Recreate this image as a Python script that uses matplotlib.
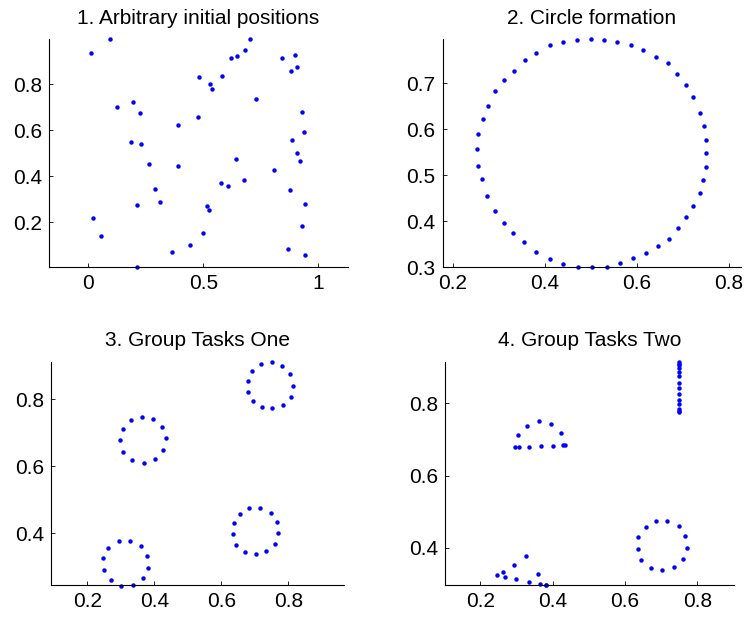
import matplotlib
matplotlib.use("Agg")
import matplotlib.pyplot as plt

plt.rcParams['font.family'] = ['Liberation Sans', 'DejaVu Sans']

# 1. arbitrary initial positions
init_x = [0.012, 0.094, 0.123, 0.193, 0.223, 0.186, 0.229, 0.265, 0.290, 0.313,
          0.212, 0.022, 0.054, 0.210, 0.362, 0.441, 0.497, 0.516, 0.525, 0.390,
          0.388, 0.477, 0.480, 0.528, 0.538, 0.580, 0.622, 0.648, 0.681, 0.703,
          0.730, 0.643, 0.577, 0.609, 0.678, 0.807, 0.842, 0.897, 0.880, 0.907,
          0.929, 0.939, 0.884, 0.907, 0.920, 0.877, 0.941, 0.928, 0.867, 0.941]
init_y = [0.938, 0.997, 0.700, 0.722, 0.677, 0.548, 0.542, 0.455, 0.343, 0.287,
          0.274, 0.219, 0.138, 0.004, 0.072, 0.103, 0.155, 0.270, 0.254, 0.445,
          0.625, 0.657, 0.832, 0.801, 0.780, 0.838, 0.913, 0.925, 0.948, 0.996,
          0.738, 0.475, 0.372, 0.359, 0.383, 0.429, 0.913, 0.929, 0.859, 0.875,
          0.678, 0.593, 0.557, 0.503, 0.465, 0.339, 0.281, 0.184, 0.083, 0.058]

# 2. circle formation
circ_x = [0.499, 0.528, 0.557, 0.586, 0.614, 0.641, 0.667, 0.688, 0.706, 0.722,
          0.738, 0.745, 0.749, 0.751, 0.749, 0.744, 0.736, 0.722, 0.706, 0.689,
          0.670, 0.645, 0.620, 0.591, 0.563, 0.534, 0.503, 0.472, 0.439, 0.410,
          0.380, 0.355, 0.330, 0.310, 0.292, 0.275, 0.263, 0.254, 0.253, 0.254,
          0.266, 0.276, 0.291, 0.311, 0.332, 0.357, 0.381, 0.410, 0.439, 0.470]
circ_y = [0.795, 0.794, 0.789, 0.782, 0.771, 0.757, 0.743, 0.719, 0.695, 0.670,
          0.636, 0.607, 0.577, 0.548, 0.518, 0.489, 0.461, 0.434, 0.409, 0.385,
          0.362, 0.346, 0.330, 0.320, 0.309, 0.301, 0.300, 0.301, 0.308, 0.318,
          0.334, 0.355, 0.375, 0.397, 0.423, 0.455, 0.491, 0.521, 0.556, 0.589,
          0.622, 0.651, 0.682, 0.706, 0.727, 0.750, 0.766, 0.782, 0.789, 0.794]

# 3. group tasks one
g1_x = [0.750, 0.717, 0.781, 0.692, 0.804, 0.679, 0.813, 0.679, 0.808, 0.694,
        0.784, 0.720, 0.752,
        0.362, 0.329, 0.397, 0.305, 0.424, 0.298, 0.434, 0.307, 0.426, 0.333,
        0.401, 0.368,
        0.683, 0.716, 0.655, 0.747, 0.637, 0.765, 0.634, 0.768, 0.645, 0.760,
        0.670, 0.734, 0.702,
        0.293, 0.327, 0.263, 0.360, 0.248, 0.379, 0.249, 0.380, 0.270, 0.365,
        0.300, 0.335]
g1_y = [0.912, 0.906, 0.899, 0.885, 0.874, 0.854, 0.841, 0.823, 0.808, 0.796,
        0.783, 0.778, 0.773,
        0.748, 0.738, 0.741, 0.711, 0.717, 0.678, 0.684, 0.644, 0.649, 0.619,
        0.623, 0.611,
        0.475, 0.475, 0.458, 0.462, 0.432, 0.433, 0.398, 0.401, 0.366, 0.368,
        0.345, 0.348, 0.339,
        0.377, 0.378, 0.357, 0.362, 0.325, 0.332, 0.290, 0.298, 0.261, 0.266,
        0.244, 0.246]

# 4. group tasks two
g2_x = [0.750] * 14 + [
        0.362, 0.329, 0.396, 0.304, 0.423, 0.297, 0.308, 0.334, 0.368, 0.402,
        0.428, 0.435,
        0.247, 0.262, 0.268, 0.292, 0.299, 0.327, 0.335, 0.359, 0.364, 0.380,
        0.381,
        0.684, 0.717, 0.657, 0.748, 0.636, 0.766, 0.635, 0.770, 0.645, 0.761,
        0.671, 0.735, 0.703]
g2_y = [0.914, 0.909, 0.904, 0.897, 0.886, 0.875, 0.856, 0.842, 0.824, 0.808,
        0.797, 0.784, 0.779, 0.774,
        0.750, 0.738, 0.742, 0.713, 0.717, 0.678, 0.678, 0.679, 0.681, 0.682,
        0.683, 0.683,
        0.325, 0.335, 0.319, 0.354, 0.314, 0.378, 0.305, 0.328, 0.300, 0.298,
        0.298,
        0.474, 0.474, 0.457, 0.461, 0.430, 0.433, 0.398, 0.400, 0.366, 0.369,
        0.345, 0.348, 0.339]

panels = [
    ("1. Arbitrary initial positions", init_x, init_y,
     [0.0654, 0.570, 0.4013, 0.367], (-0.172, 1.128), (0.005, 0.997),
     [0, 0.5, 1], ["0", "0.5", "1"], [0.2, 0.4, 0.6, 0.8]),
    ("2. Circle formation", circ_x, circ_y,
     [0.5942, 0.5696, 0.4008, 0.367], (0.1776, 0.8267), (0.3, 0.795),
     [0.2, 0.4, 0.6, 0.8], None, [0.3, 0.4, 0.5, 0.6, 0.7]),
    ("3. Group Tasks One", g1_x, g1_y,
     [0.0689, 0.0575, 0.3929, 0.360], (0.0925, 0.966), (0.245, 0.912),
     [0.2, 0.4, 0.6, 0.8], None, [0.4, 0.6, 0.8]),
    ("4. Group Tasks Two", g2_x, g2_y,
     [0.5977, 0.0575, 0.3871, 0.360], (0.103, 0.900), (0.297, 0.914),
     [0.2, 0.4, 0.6, 0.8], None, [0.4, 0.6, 0.8]),
]

fig = plt.figure(figsize=(7.45, 6.21), dpi=100)

for title, xs, ys, pos, xl, yl, xt, xtl, yt in panels:
    ax = fig.add_axes(pos)
    ax.plot(xs, ys, 'o', color='b', ms=3.2, mew=0, clip_on=False)
    ax.set_xlim(*xl)
    ax.set_ylim(*yl)
    ax.set_xticks(xt)
    if xtl:
        ax.set_xticklabels(xtl)
    ax.set_yticks(yt)
    ax.spines['top'].set_visible(False)
    ax.spines['right'].set_visible(False)
    for s in ('left', 'bottom'):
        ax.spines[s].set_linewidth(0.8)
    ax.tick_params(direction='in', length=3, width=0.6, labelsize=15, pad=5)
    ax.set_title(title, fontsize=15, pad=11)

fig.savefig("out.png", dpi=100)
